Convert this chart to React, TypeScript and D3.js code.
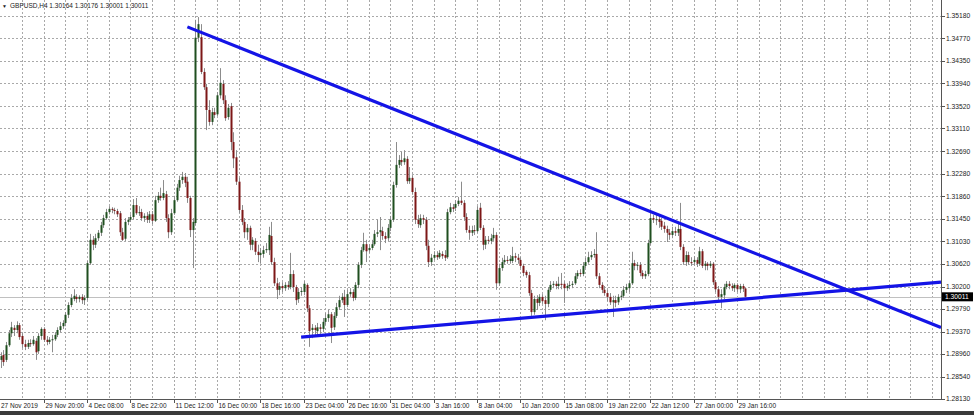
import React from "react";
import * as d3 from "d3";

const symbolTitle = "GBPUSD,H4";
const lastQuote = [1.30164, 1.30176, 1.30001, 1.30011];
const priceTicks = [1.3518, 1.3477, 1.3435, 1.3394, 1.3352, 1.3311, 1.3269, 1.3228, 1.3186, 1.3145, 1.3103, 1.3062, 1.302, 1.2979, 1.2937, 1.2896, 1.2854, 1.2813];
const timeLabels = ["27 Nov 2019", "29 Nov 20:00", "4 Dec 08:00", "8 Dec 22:00", "11 Dec 12:00", "16 Dec 00:00", "18 Dec 16:00", "23 Dec 04:00", "26 Dec 16:00", "31 Dec 04:00", "3 Jan 16:00", "8 Jan 04:00", "10 Jan 20:00", "15 Jan 08:00", "19 Jan 22:00", "22 Jan 12:00", "27 Jan 00:00", "29 Jan 16:00"];
const barsPerLabel = 16;
const barsPerGrid = 8;
const visibleBars = 347.27;

// [open, high, low, close]
const candles: number[][] = [
[1.2885,1.2899,1.2870,1.2892],[1.2894,1.2903,1.2874,1.2881],[1.2885,1.2918,1.2881,1.2912],[1.2912,1.2940,1.2909,1.2934],
[1.2934,1.2955,1.2927,1.2945],[1.2944,1.2949,1.2929,1.2940],[1.2940,1.2956,1.2934,1.2949],[1.2949,1.2953,1.2922,1.2927],
[1.2929,1.2934,1.2907,1.2914],[1.2914,1.2922,1.2903,1.2909],[1.2909,1.2922,1.2905,1.2916],[1.2916,1.2923,1.2909,1.2914],
[1.2914,1.2929,1.2911,1.2922],[1.2920,1.2925,1.2885,1.2899],[1.2901,1.2934,1.2896,1.2929],[1.2929,1.2945,1.2922,1.2942],
[1.2942,1.2945,1.2918,1.2922],[1.2922,1.2929,1.2912,1.2918],[1.2918,1.2927,1.2914,1.2922],[1.2922,1.2931,1.2899,1.2923],
[1.2923,1.2936,1.2920,1.2931],[1.2931,1.2945,1.2927,1.2940],[1.2940,1.2955,1.2936,1.2947],[1.2947,1.2958,1.2942,1.2953],
[1.2953,1.2973,1.2947,1.2968],[1.2968,1.2991,1.2962,1.2986],[1.2986,1.3006,1.2982,1.2999],[1.2997,1.3015,1.2993,1.3003],
[1.3001,1.3006,1.2990,1.2997],[1.2997,1.3004,1.2991,1.3001],[1.3001,1.3006,1.2988,1.2995],[1.2995,1.3004,1.2986,1.2999],
[1.2999,1.3067,1.2995,1.3063],[1.3063,1.3117,1.3060,1.3106],[1.3106,1.3113,1.3087,1.3097],[1.3097,1.3117,1.3091,1.3109],
[1.3109,1.3124,1.3104,1.3119],[1.3119,1.3139,1.3113,1.3133],[1.3133,1.3152,1.3128,1.3146],[1.3146,1.3163,1.3143,1.3157],
[1.3157,1.3168,1.3153,1.3163],[1.3163,1.3166,1.3155,1.3161],[1.3161,1.3165,1.3153,1.3159],[1.3159,1.3163,1.3148,1.3153],
[1.3155,1.3159,1.3113,1.3120],[1.3120,1.3128,1.3104,1.3106],[1.3108,1.3146,1.3104,1.3139],[1.3139,1.3148,1.3133,1.3143],
[1.3143,1.3153,1.3139,1.3148],[1.3148,1.3181,1.3144,1.3170],[1.3170,1.3183,1.3152,1.3155],[1.3155,1.3168,1.3150,1.3157],
[1.3157,1.3163,1.3141,1.3146],[1.3146,1.3155,1.3139,1.3150],[1.3150,1.3157,1.3137,1.3143],[1.3143,1.3159,1.3137,1.3153],
[1.3153,1.3159,1.3135,1.3141],[1.3141,1.3187,1.3139,1.3179],[1.3179,1.3194,1.3174,1.3187],[1.3187,1.3202,1.3178,1.3183],
[1.3183,1.3216,1.3179,1.3192],[1.3190,1.3196,1.3139,1.3146],[1.3146,1.3153,1.3109,1.3120],[1.3120,1.3163,1.3115,1.3155],
[1.3155,1.3187,1.3152,1.3179],[1.3179,1.3209,1.3176,1.3202],[1.3202,1.3224,1.3196,1.3216],[1.3216,1.3231,1.3209,1.3222],
[1.3222,1.3229,1.3203,1.3211],[1.3213,1.3222,1.3174,1.3183],[1.3183,1.3187,1.3111,1.3124],[1.3124,1.3146,1.3054,1.3139],
[1.3137,1.3511,1.3133,1.3478],[1.3478,1.3516,1.3470,1.3503],[1.3479,1.3503,1.3411,1.3415],[1.3415,1.3422,1.3382,1.3387],
[1.3387,1.3393,1.3308,1.3345],[1.3345,1.3363,1.3316,1.3323],[1.3323,1.3349,1.3317,1.3341],[1.3341,1.3349,1.3330,1.3336],
[1.3337,1.3378,1.3334,1.3372],[1.3372,1.3422,1.3366,1.3395],[1.3393,1.3400,1.3356,1.3363],[1.3363,1.3372,1.3325,1.3330],
[1.3332,1.3356,1.3327,1.3349],[1.3352,1.3358,1.3271,1.3286],[1.3286,1.3304,1.3238,1.3256],[1.3258,1.3271,1.3207,1.3213],
[1.3213,1.3220,1.3155,1.3161],[1.3161,1.3170,1.3133,1.3139],[1.3139,1.3146,1.3109,1.3120],[1.3120,1.3135,1.3106,1.3128],
[1.3128,1.3132,1.3087,1.3097],[1.3097,1.3111,1.3087,1.3106],[1.3104,1.3109,1.3078,1.3084],[1.3084,1.3097,1.3065,1.3078],
[1.3078,1.3091,1.3062,1.3082],[1.3080,1.3095,1.3073,1.3087],[1.3087,1.3100,1.3082,1.3089],[1.3087,1.3130,1.3078,1.3115],
[1.3113,1.3139,1.3060,1.3065],[1.3065,1.3073,1.3021,1.3026],[1.3026,1.3036,1.2997,1.3014],[1.3014,1.3028,1.3004,1.3021],
[1.3021,1.3028,1.3010,1.3017],[1.3017,1.3028,1.3012,1.3023],[1.3023,1.3030,1.3014,1.3019],[1.3019,1.3082,1.3015,1.3043],
[1.3043,1.3050,1.3010,1.3019],[1.3019,1.3023,1.2986,1.2995],[1.2997,1.3017,1.2990,1.3010],[1.3010,1.3019,1.3003,1.3012],
[1.3010,1.3030,1.3004,1.3025],[1.3023,1.3026,1.2973,1.2980],[1.2980,1.2986,1.2909,1.2938],[1.2940,1.2951,1.2925,1.2944],
[1.2944,1.2949,1.2929,1.2940],[1.2938,1.2953,1.2929,1.2945],[1.2945,1.2951,1.2933,1.2942],[1.2942,1.2962,1.2936,1.2955],
[1.2955,1.2971,1.2949,1.2962],[1.2962,1.2977,1.2955,1.2969],[1.2969,1.2973,1.2916,1.2944],[1.2945,1.2973,1.2940,1.2966],
[1.2966,1.2990,1.2962,1.2982],[1.2982,1.3003,1.2977,1.2995],[1.2995,1.3008,1.2990,1.3001],[1.3001,1.3014,1.2964,1.2986],
[1.2986,1.3014,1.2982,1.3006],[1.3006,1.3017,1.3001,1.3010],[1.3010,1.3015,1.2993,1.2999],[1.2999,1.3028,1.2995,1.3023],
[1.3023,1.3065,1.3017,1.3060],[1.3060,1.3093,1.3054,1.3087],[1.3087,1.3119,1.3084,1.3098],[1.3098,1.3106,1.3065,1.3085],
[1.3087,1.3098,1.3082,1.3091],[1.3091,1.3106,1.3087,1.3098],[1.3098,1.3124,1.3095,1.3117],[1.3117,1.3143,1.3111,1.3120],
[1.3120,1.3148,1.3087,1.3124],[1.3122,1.3130,1.3106,1.3113],[1.3113,1.3120,1.3100,1.3108],[1.3109,1.3135,1.3104,1.3128],
[1.3128,1.3150,1.3122,1.3143],[1.3143,1.3213,1.3139,1.3207],[1.3207,1.3286,1.3202,1.3244],[1.3244,1.3262,1.3238,1.3253],
[1.3253,1.3268,1.3242,1.3249],[1.3249,1.3271,1.3244,1.3256],[1.3255,1.3260,1.3209,1.3214],[1.3214,1.3240,1.3209,1.3220],
[1.3220,1.3225,1.3189,1.3194],[1.3194,1.3202,1.3135,1.3143],[1.3143,1.3152,1.3128,1.3135],[1.3133,1.3153,1.3128,1.3146],
[1.3146,1.3152,1.3135,1.3143],[1.3143,1.3148,1.3087,1.3095],[1.3095,1.3106,1.3056,1.3065],[1.3065,1.3080,1.3058,1.3073],
[1.3073,1.3085,1.3069,1.3078],[1.3078,1.3085,1.3069,1.3074],[1.3074,1.3087,1.3071,1.3082],[1.3080,1.3085,1.3071,1.3076],
[1.3078,1.3087,1.3067,1.3073],[1.3074,1.3163,1.3071,1.3157],[1.3157,1.3174,1.3153,1.3166],[1.3166,1.3172,1.3157,1.3163],
[1.3165,1.3179,1.3159,1.3172],[1.3172,1.3185,1.3168,1.3178],[1.3178,1.3213,1.3170,1.3174],[1.3174,1.3179,1.3141,1.3148],
[1.3148,1.3155,1.3119,1.3124],[1.3124,1.3132,1.3106,1.3119],[1.3119,1.3132,1.3113,1.3124],[1.3124,1.3133,1.3115,1.3122],
[1.3122,1.3168,1.3119,1.3161],[1.3165,1.3174,1.3124,1.3128],[1.3128,1.3133,1.3087,1.3097],[1.3097,1.3113,1.3089,1.3106],
[1.3106,1.3113,1.3098,1.3104],[1.3104,1.3117,1.3098,1.3109],[1.3109,1.3128,1.3104,1.3115],[1.3115,1.3120,1.3014,1.3026],
[1.3026,1.3062,1.3021,1.3054],[1.3054,1.3073,1.3049,1.3065],[1.3065,1.3078,1.3060,1.3069],[1.3069,1.3076,1.3062,1.3067],
[1.3067,1.3078,1.3062,1.3071],[1.3067,1.3093,1.3063,1.3076],[1.3076,1.3082,1.3065,1.3073],[1.3073,1.3080,1.3062,1.3069],
[1.3069,1.3074,1.3054,1.3058],[1.3058,1.3062,1.3039,1.3045],[1.3047,1.3050,1.3036,1.3041],[1.3041,1.3047,1.3003,1.3008],
[1.3008,1.3014,1.2966,1.2973],[1.2973,1.3003,1.2968,1.2997],[1.2997,1.3004,1.2977,1.2990],[1.2990,1.3006,1.2984,1.3001],
[1.3001,1.3006,1.2988,1.2993],[1.2995,1.3003,1.2958,1.2988],[1.2988,1.3019,1.2982,1.3014],[1.3014,1.3030,1.3010,1.3023],
[1.3023,1.3030,1.3017,1.3025],[1.3025,1.3030,1.3015,1.3021],[1.3021,1.3038,1.3015,1.3025],[1.3025,1.3045,1.3015,1.3023],
[1.3025,1.3030,1.2990,1.3017],[1.3017,1.3026,1.3012,1.3021],[1.3021,1.3030,1.3015,1.3023],[1.3023,1.3030,1.3017,1.3025],
[1.3026,1.3045,1.3023,1.3039],[1.3039,1.3050,1.3034,1.3045],[1.3045,1.3052,1.3038,1.3043],[1.3043,1.3065,1.3039,1.3058],
[1.3058,1.3073,1.3054,1.3065],[1.3065,1.3084,1.3062,1.3074],[1.3074,1.3085,1.3069,1.3078],[1.3078,1.3089,1.3073,1.3080],
[1.3080,1.3120,1.3034,1.3039],[1.3039,1.3045,1.3017,1.3023],[1.3023,1.3028,1.3008,1.3014],[1.3014,1.3021,1.3003,1.3008],
[1.3008,1.3014,1.2993,1.3001],[1.3001,1.3008,1.2986,1.2991],[1.2991,1.3003,1.2964,1.2995],[1.2995,1.3003,1.2982,1.2990],
[1.2991,1.3006,1.2986,1.3001],[1.3001,1.3012,1.2995,1.3003],[1.3003,1.3021,1.2999,1.3014],[1.3014,1.3025,1.3008,1.3019],
[1.3017,1.3030,1.3010,1.3026],[1.3026,1.3084,1.3023,1.3063],[1.3063,1.3069,1.3050,1.3058],[1.3058,1.3065,1.3050,1.3060],
[1.3060,1.3065,1.3039,1.3045],[1.3045,1.3050,1.3034,1.3039],[1.3039,1.3049,1.3034,1.3043],[1.3043,1.3106,1.3039,1.3100],
[1.3100,1.3155,1.3097,1.3146],[1.3146,1.3152,1.3137,1.3143],[1.3143,1.3152,1.3133,1.3144],[1.3144,1.3150,1.3128,1.3139],
[1.3141,1.3146,1.3124,1.3130],[1.3132,1.3139,1.3119,1.3126],[1.3126,1.3132,1.3102,1.3119],[1.3119,1.3126,1.3106,1.3115],
[1.3115,1.3130,1.3109,1.3122],[1.3122,1.3130,1.3113,1.3119],[1.3119,1.3135,1.3113,1.3126],[1.3126,1.3174,1.3087,1.3093],
[1.3093,1.3098,1.3060,1.3065],[1.3065,1.3085,1.3058,1.3078],[1.3078,1.3084,1.3060,1.3065],[1.3065,1.3074,1.3058,1.3063],
[1.3065,1.3076,1.3058,1.3069],[1.3069,1.3074,1.3056,1.3062],[1.3062,1.3093,1.3058,1.3085],[1.3085,1.3089,1.3054,1.3058],
[1.3058,1.3067,1.3050,1.3062],[1.3062,1.3065,1.3050,1.3058],[1.3058,1.3067,1.3054,1.3062],[1.3062,1.3065,1.3023,1.3028],
[1.3028,1.3032,1.3010,1.3015],[1.3015,1.3021,1.2995,1.3001],[1.3001,1.3015,1.2980,1.3006],[1.3004,1.3025,1.2997,1.3019],
[1.3019,1.3030,1.3015,1.3025],[1.3025,1.3030,1.3015,1.3021],[1.3021,1.3026,1.3012,1.3017],[1.3017,1.3026,1.3010,1.3023],
[1.3023,1.3026,1.3010,1.3015],[1.3015,1.3025,1.3008,1.3021],[1.3021,1.3025,1.3010,1.3016],[1.30164,1.30176,1.30001,1.30011]
];

// trend lines: two anchors [barIndex, price]; drawn from first anchor and extended to the right edge
const resistanceLine = [[69, 1.3498], [240, 1.3158]];
const supportLine = [[111, 1.2927], [265, 1.2993]];

const W = 974;
const H = 415;
const plotRight = 941;
const plotBottom = 399;

const BULL = "#1f4f1f";
const BEAR = "#7d1717";
const WICK = "#8c8c8c";
const GRID = "#a9a9a9";
const TREND = "#1414e6";
const FONT = "'Liberation Sans', Arial, sans-serif";

export default function App() {
  const x = d3.scaleLinear().domain([0, visibleBars]).range([0.5, plotRight]);
  const y = d3
    .scaleLinear()
    .domain([priceTicks[priceTicks.length - 1], priceTicks[0]])
    .range([plotBottom, 16]);

  const gridBars = d3.range(barsPerGrid, visibleBars, barsPerGrid);
  const bid = lastQuote[3];

  const extend = (pts: number[][]) => {
    const [a, b] = pts;
    const slope = (b[1] - a[1]) / (b[0] - a[0]);
    const endIdx = visibleBars;
    return [
      [x(a[0]), y(a[1])],
      [x(endIdx), y(a[1] + slope * (endIdx - a[0]))],
    ];
  };
  const line = d3.line();

  return (
    <svg
      width={W}
      height={H}
      style={{ position: "absolute", left: 0, top: 0, background: "#fff" }}
      fontFamily={FONT}
    >
      <rect x={0} y={0} width={W} height={H} fill="#fff" />
      {/* horizontal grid */}
      {priceTicks.map((p) => (
        <line
          key={"hg" + p}
          x1={0}
          x2={plotRight}
          y1={Math.round(y(p)) + 0.5}
          y2={Math.round(y(p)) + 0.5}
          stroke={GRID}
          strokeDasharray="2,2"
        />
      ))}
      {/* vertical grid */}
      {gridBars.map((b) => (
        <line
          key={"vg" + b}
          x1={Math.round(x(b)) + 0.5}
          x2={Math.round(x(b)) + 0.5}
          y1={0}
          y2={plotBottom}
          stroke={GRID}
          strokeDasharray="2,2"
        />
      ))}
      {/* bid line */}
      <line
        x1={0}
        x2={plotRight}
        y1={Math.round(y(bid)) + 0.5}
        y2={Math.round(y(bid)) + 0.5}
        stroke="#c0c0c0"
      />
      {/* candles */}
      {candles.map((c, i) => {
        const [o, h, l, cl] = c;
        const cx = Math.round(x(i));
        const top = y(Math.max(o, cl));
        const bot = y(Math.min(o, cl));
        return (
          <g key={"c" + i}>
            <line x1={cx + 0.5} x2={cx + 0.5} y1={y(h)} y2={y(l)} stroke={WICK} strokeWidth={1} />
            <rect
              x={cx - 0.5}
              y={top}
              width={2}
              height={Math.max(1, bot - top)}
              fill={cl >= o ? BULL : BEAR}
            />
          </g>
        );
      })}
      {/* trend lines */}
      <path d={line(extend(resistanceLine) as any) || ""} stroke={TREND} strokeWidth={3.2} fill="none" />
      <path d={line(extend(supportLine) as any) || ""} stroke={TREND} strokeWidth={3.2} fill="none" />
      {/* axes */}
      <line x1={plotRight + 0.5} x2={plotRight + 0.5} y1={0} y2={plotBottom + 1} stroke="#555" />
      <line x1={0} x2={plotRight + 1} y1={plotBottom + 0.5} y2={plotBottom + 0.5} stroke="#555" />
      {priceTicks.map((p) => (
        <g key={"pt" + p}>
          <line
            x1={plotRight}
            x2={plotRight + 4}
            y1={Math.round(y(p)) + 0.5}
            y2={Math.round(y(p)) + 0.5}
            stroke="#555"
          />
          <text x={plotRight + 5} y={y(p) + 2.4} fontSize={6.7} fill="#222">
            {p.toFixed(5)}
          </text>
        </g>
      ))}
      {/* bid label */}
      <rect x={plotRight + 1} y={y(bid) - 4.5} width={31} height={9} fill="#000" />
      <text x={plotRight + 4} y={y(bid) + 2.4} fontSize={6.7} fill="#fff">
        {bid.toFixed(5)}
      </text>
      {/* time axis */}
      {timeLabels.map((t, k) => {
        const tx = Math.round(x(k * barsPerLabel)) + 0.5;
        return (
          <g key={"tl" + k}>
            {k > 0 && <line x1={tx} x2={tx} y1={plotBottom} y2={plotBottom + 4} stroke="#555" />}
            <text x={k === 0 ? 1 : tx + 1} y={plotBottom + 9} fontSize={6.5} fill="#222">
              {t}
            </text>
          </g>
        );
      })}
      {/* bottom strip */}
      <rect x={0} y={411} width={W} height={4} fill="#3a3a3a" />
      {/* title */}
      <text x={2} y={7.5} fontSize={5} fill="#222">▼</text>
      <text x={10} y={7.5} fontSize={6.5} fill="#222">
        {symbolTitle + "  " + lastQuote.map((v) => v.toFixed(5)).join(" ")}
      </text>
    </svg>
  );
}
